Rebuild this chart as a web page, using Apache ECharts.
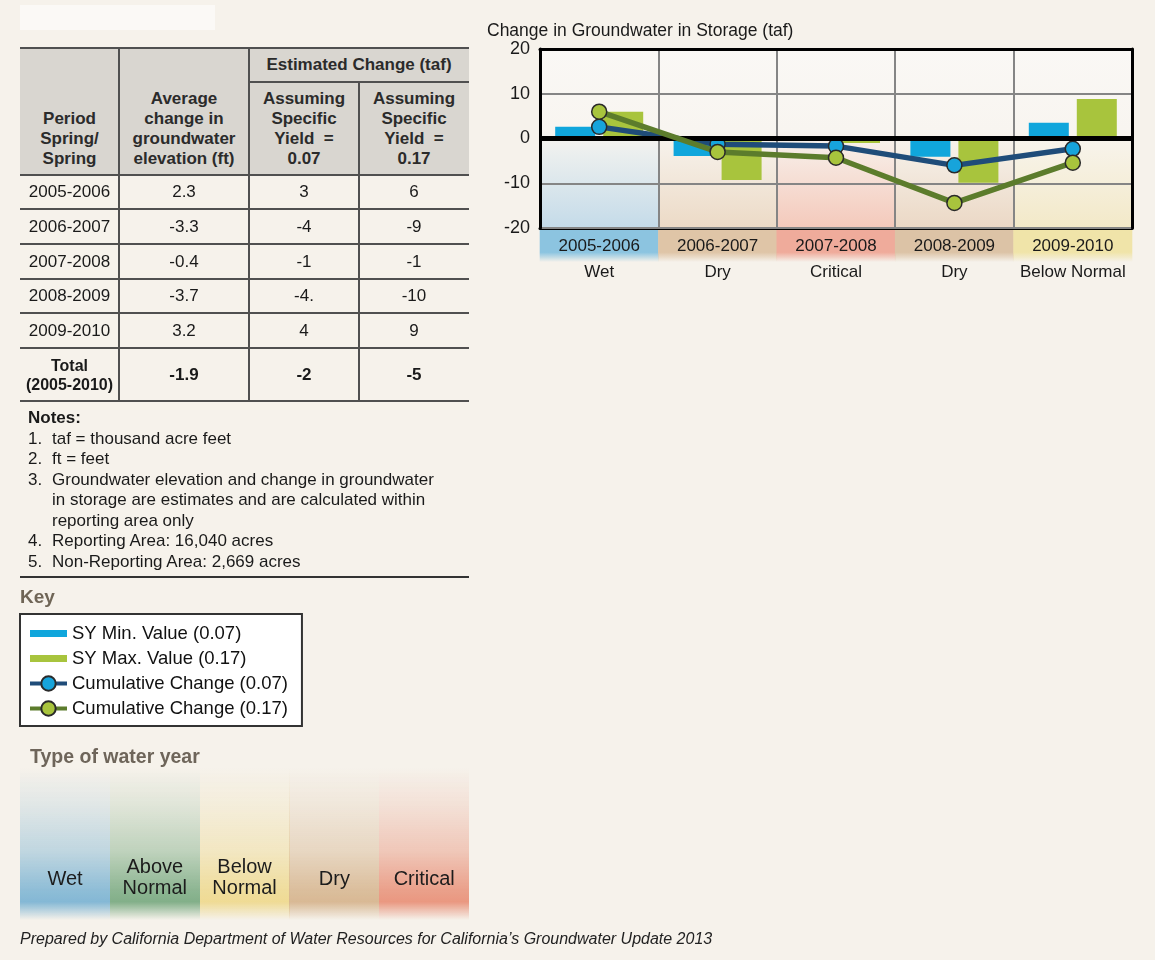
<!DOCTYPE html>
<html>
<head>
<meta charset="utf-8">
<script src="https://cdn.jsdelivr.net/npm/echarts/dist/echarts.min.js"></script>
<style>
  html, body { margin: 0; padding: 0; }
  body { width: 1155px; height: 960px; overflow: hidden; background: #f6f2eb; position: relative;
         font-family: 'Liberation Sans', Arial, sans-serif; color: #1a1a1a; }
  #chart { position: absolute; left: 0; top: 0; width: 1155px; height: 960px; }
  .abs { position: absolute; }
  .hline { position: absolute; height: 2px; background: #505050; }
  .vline { position: absolute; width: 2px; background: #505050; }
  .cell { position: absolute; display: flex; align-items: center; justify-content: center; text-align: center;
          font-size: 17px; line-height: 20px; box-sizing: border-box; }
  .hcell { align-items: flex-end; padding-bottom: 6px; font-weight: bold; color: #2b2b2b; }
  .notes { position: absolute; left: 28px; top: 408px; font-size: 17px; line-height: 20.5px; color: #1a1a1a; }
  .ni { display: flex; }
  .ni span:first-child { width: 24px; flex: none; }
  .sw { position: absolute; top: 768px; width: 90px; height: 152px; display: flex; align-items: flex-end;
        justify-content: center; text-align: center; font-size: 20px; line-height: 21px; color: #1c1c1c; box-sizing: border-box; }
</style>
</head>
<body>
<div class="abs" style="left:20px;top:5px;width:195px;height:25px;background:#fbf9f6;"></div>
<div id="chart"></div>
<div id="table"></div>
<div class="notes" id="notes"></div>
<div class="hline" style="left:20px;top:576px;width:449px;background:#333;"></div>
<div class="abs" style="left:20px;top:585px;font-size:19px;font-weight:bold;color:#6f6556;line-height:24px;">Key</div>
<div class="abs" style="left:30px;top:744px;font-size:19.5px;font-weight:bold;color:#6e655a;line-height:24px;">Type of water year</div>
<div id="swatches"></div>
<div class="abs" style="left:20px;top:930px;font-size:16px;font-style:italic;color:#222;line-height:18px;">Prepared by California Department of Water Resources for California’s Groundwater Update 2013</div>
<script>
// ---------------- data ----------------
const categories = ['2005-2006', '2006-2007', '2007-2008', '2008-2009', '2009-2010'];
const waterYearTypes = ['Wet', 'Dry', 'Critical', 'Dry', 'Below Normal'];
const syMinValues = [2.6, -3.9, -0.4, -4.1, 3.5];        // SY 0.07 bars
const syMaxValues = [6.0, -9.3, -1.0, -9.9, 8.8];        // SY 0.17 bars
const cumulative007 = [2.6, -1.3, -1.7, -6.0, -2.3];     // cumulative change line (0.07)
const cumulative017 = [6.0, -3.0, -4.3, -14.4, -5.4];    // cumulative change line (0.17)
const yTickMin = -20, yTickMax = 20, yTickStep = 10;

// table data
const tablePeriods = ['2005-2006', '2006-2007', '2007-2008', '2008-2009', '2009-2010'];
const tableElevChange = ['2.3', '-3.3', '-0.4', '-3.7', '3.2'];
const tableSy007 = ['3', '-4', '-1', '-4.', '4'];
const tableSy017 = ['6', '-9', '-1', '-10', '9'];
const tableTotals = ['-1.9', '-2', '-5'];
const notesItems = [
  'taf = thousand acre feet',
  'ft = feet',
  'Groundwater elevation and change in groundwater<br>in storage are estimates and are calculated within<br>reporting area only',
  'Reporting Area: 16,040 acres',
  'Non-Reporting Area: 2,669 acres'
];
const keyTypes = ['Wet', 'Above<br>Normal', 'Below<br>Normal', 'Dry', 'Critical'];

// ---------------- styles ----------------
const FF = "'Liberation Sans', Arial, sans-serif";
const bandColors = ['#8cc4e0', '#dfc5a7', '#efab9b', '#dcc3a6', '#f0e4a9'];
const colBottomColors = ['#c4dbe9', '#ecdac6', '#f4c9bb', '#ebd8c5', '#f3e9c8'];
const keyColors = ['125,180,211', '123,171,131', '238,217,143', '214,181,143', '232,146,122'];

function hexA(hex, a) {
  const n = parseInt(hex.slice(1), 16);
  return `rgba(${(n >> 16) & 255},${(n >> 8) & 255},${n & 255},${a})`;
}

// ---------------- table ----------------
(function buildTable() {
  const colX = [20, 119, 249, 359, 469];
  const rowY = [48, 82, 175, 209, 244, 279, 313, 348, 401];
  let h = '';
  h += `<div class="abs" style="left:20px;top:48px;width:449px;height:127px;background:#d9d6d0;"></div>`;
  const cell = (x0, x1, y0, y1, html, cls, extra) =>
    `<div class="cell ${cls || ''}" style="left:${x0}px;top:${y0}px;width:${x1 - x0}px;height:${y1 - y0}px;${extra || ''}">${html}</div>`;
  h += cell(colX[0], colX[1], 48, 175, 'Period<br>Spring/<br>Spring', 'hcell');
  h += cell(colX[1], colX[2], 48, 175, 'Average<br>change in<br>groundwater<br>elevation (ft)', 'hcell');
  h += cell(colX[2], colX[4], 48, 82, 'Estimated Change (taf)', '', 'font-weight:bold;color:#2b2b2b;');
  h += cell(colX[2], colX[3], 82, 175, 'Assuming<br>Specific<br>Yield&nbsp; =<br>0.07', 'hcell');
  h += cell(colX[3], colX[4], 82, 175, 'Assuming<br>Specific<br>Yield&nbsp; =<br>0.17', 'hcell');
  for (let i = 0; i < tablePeriods.length; i++) {
    const y0 = rowY[i + 2], y1 = rowY[i + 3];
    h += cell(colX[0], colX[1], y0, y1, tablePeriods[i]);
    h += cell(colX[1], colX[2], y0, y1, tableElevChange[i]);
    h += cell(colX[2], colX[3], y0, y1, tableSy007[i]);
    h += cell(colX[3], colX[4], y0, y1, tableSy017[i]);
  }
  const ty0 = rowY[7], ty1 = rowY[8];
  h += cell(colX[0], colX[1], ty0, ty1, 'Total<br>(2005-2010)', '', 'font-weight:bold;font-size:16px;line-height:19px;');
  h += cell(colX[1], colX[2], ty0, ty1, tableTotals[0], '', 'font-weight:bold;');
  h += cell(colX[2], colX[3], ty0, ty1, tableTotals[1], '', 'font-weight:bold;');
  h += cell(colX[3], colX[4], ty0, ty1, tableTotals[2], '', 'font-weight:bold;');
  rowY.forEach((y) => {
    if (y === 82) h += `<div class="hline" style="left:${colX[2]}px;top:${y - 1}px;width:${colX[4] - colX[2]}px;"></div>`;
    else h += `<div class="hline" style="left:20px;top:${y - 1}px;width:449px;"></div>`;
  });
  [1, 2].forEach((c) => { h += `<div class="vline" style="left:${colX[c] - 1}px;top:48px;height:353px;"></div>`; });
  h += `<div class="vline" style="left:${colX[3] - 1}px;top:82px;height:319px;"></div>`;
  document.getElementById('table').innerHTML = h;

  let n = '<div style="font-weight:bold;">Notes:</div>';
  notesItems.forEach((t, i) => { n += `<div class="ni"><span>${i + 1}.</span><span>${t}</span></div>`; });
  document.getElementById('notes').innerHTML = n;

  let s = '';
  keyTypes.forEach((t, i) => {
    const c = keyColors[i];
    const grad = `linear-gradient(to bottom, rgba(${c},0) 0%, rgba(${c},0.18) 25%, rgba(${c},0.45) 55%, rgba(${c},0.85) 80%, rgba(${c},0.95) 88%, rgba(${c},0) 100%)`;
    const pb = t.indexOf('<br>') >= 0 ? 22 : 31;
    s += `<div class="sw" style="left:${20 + i * 89.8}px;background:${grad};padding-bottom:${pb}px;">${t}</div>`;
  });
  document.getElementById('swatches').innerHTML = s;
})();

// ---------------- chart ----------------
const chart = echarts.init(document.getElementById('chart'), null, { renderer: 'canvas' });

const rich = {
  t: { fontSize: 17, lineHeight: 20, height: 20, color: '#1a1a1a', fontFamily: FF, align: 'center', padding: [0, 0, 0, 0] }
};
categories.forEach((c, i) => {
  rich['b' + i] = {
    fontSize: 17, color: '#1a1a1a', fontFamily: FF, width: 119, height: 32, lineHeight: 32, align: 'center',
    backgroundColor: new echarts.graphic.LinearGradient(0, 0, 0, 1, [
      { offset: 0, color: bandColors[i] },
      { offset: 0.7, color: bandColors[i] },
      { offset: 1, color: hexA(bandColors[i], 0) }
    ])
  };
});

const columnGradients = colBottomColors.map((c) => new echarts.graphic.LinearGradient(0, 0, 0, 1, [
  { offset: 0, color: '#faf8f5' },
  { offset: 0.45, color: '#f8f5f0' },
  { offset: 1, color: c }
]));

const option = {
  backgroundColor: 'transparent',
  animation: false,
  title: {
    text: 'Change in Groundwater in Storage (taf)',
    left: 482, top: 17,
    textStyle: { fontSize: 17.5, fontWeight: 'normal', color: '#1a1a1a', fontFamily: FF }
  },
  legend: {
    left: 20, top: 614, orient: 'vertical',
    itemWidth: 37, itemHeight: 18, itemGap: 6, itemTextGap: 1,
    padding: [10, 14, 8, 8],
    backgroundColor: '#ffffff', borderColor: '#333', borderWidth: 2, borderRadius: 0,
    textStyle: { fontSize: 18.5, color: '#111', fontFamily: FF },
    lineStyle: { width: 4 },
    data: [
      { name: 'SY Min. Value (0.07)', icon: 'path://M0,0L32,0L32,6L0,6Z' },
      { name: 'SY Max. Value (0.17)', icon: 'path://M0,0L32,0L32,6L0,6Z' },
      { name: 'Cumulative Change (0.07)' },
      { name: 'Cumulative Change (0.17)' }
    ]
  },
  grid: { left: 540, top: 49, width: 592, height: 179, containLabel: false, outerBoundsMode: 'none' },
  xAxis: [
    {
      type: 'category', data: categories, boundaryGap: true, z: 0,
      axisLine: { show: true, onZero: false, lineStyle: { color: '#000', width: 3 } },
      axisTick: { show: false },
      axisLabel: {
        interval: 0, margin: 2,
        formatter: (v, i) => `{b${i}|${v}}\n{t|${waterYearTypes[i]}}`,
        rich: rich
      },
      splitLine: { show: true, interval: 0, lineStyle: { color: '#858585', width: 2 } },
      splitArea: { show: true, interval: 0, areaStyle: { color: columnGradients } }
    },
    {
      type: 'category', data: categories, position: 'top', z: 3,
      axisLine: { show: true, onZero: false, lineStyle: { color: '#000', width: 3 } },
      axisTick: { show: false }, axisLabel: { show: false }, splitLine: { show: false }
    }
  ],
  yAxis: [
    {
      type: 'value', min: yTickMin, max: yTickMax, interval: yTickStep, z: 1,
      axisLine: { show: true, lineStyle: { color: '#000', width: 3 } },
      axisTick: { show: false },
      axisLabel: { fontSize: 18, color: '#1a1a1a', fontFamily: FF, margin: 10 },
      splitLine: { show: true, lineStyle: { color: '#858585', width: 2 } }
    },
    {
      type: 'value', min: yTickMin, max: yTickMax, interval: yTickStep, position: 'right', z: 3,
      axisLine: { show: true, lineStyle: { color: '#000', width: 3 } },
      axisTick: { show: false }, axisLabel: { show: false }, splitLine: { show: false }
    }
  ],
  series: [
    {
      name: 'SY Min. Value (0.07)', type: 'bar', data: syMinValues,
      barWidth: 40, barGap: '20%', z: 2,
      itemStyle: { color: '#10a6dc' },
      markLine: {
        silent: true, symbol: ['none', 'none'], label: { show: false },
        lineStyle: { color: '#000', width: 5, type: 'solid' },
        data: [{ yAxis: 0 }]
      }
    },
    {
      name: 'SY Max. Value (0.17)', type: 'bar', data: syMaxValues,
      barWidth: 40, barGap: '20%', z: 2,
      itemStyle: { color: '#a8c43d' }
    },
    {
      name: 'Cumulative Change (0.07)', type: 'line', data: cumulative007, z: 4,
      symbol: 'circle', symbolSize: 15, showAllSymbol: true,
      lineStyle: { color: '#1f4c79', width: 5.5 },
      itemStyle: { color: '#17a4db', borderColor: '#2a2a2a', borderWidth: 1.5 }
    },
    {
      name: 'Cumulative Change (0.17)', type: 'line', data: cumulative017, z: 5,
      symbol: 'circle', symbolSize: 15, showAllSymbol: true,
      lineStyle: { color: '#5c7c2c', width: 5.5 },
      itemStyle: { color: '#a8c43d', borderColor: '#2a2a2a', borderWidth: 1.5 }
    }
  ]
};
chart.setOption(option);
</script>
</body>
</html>
